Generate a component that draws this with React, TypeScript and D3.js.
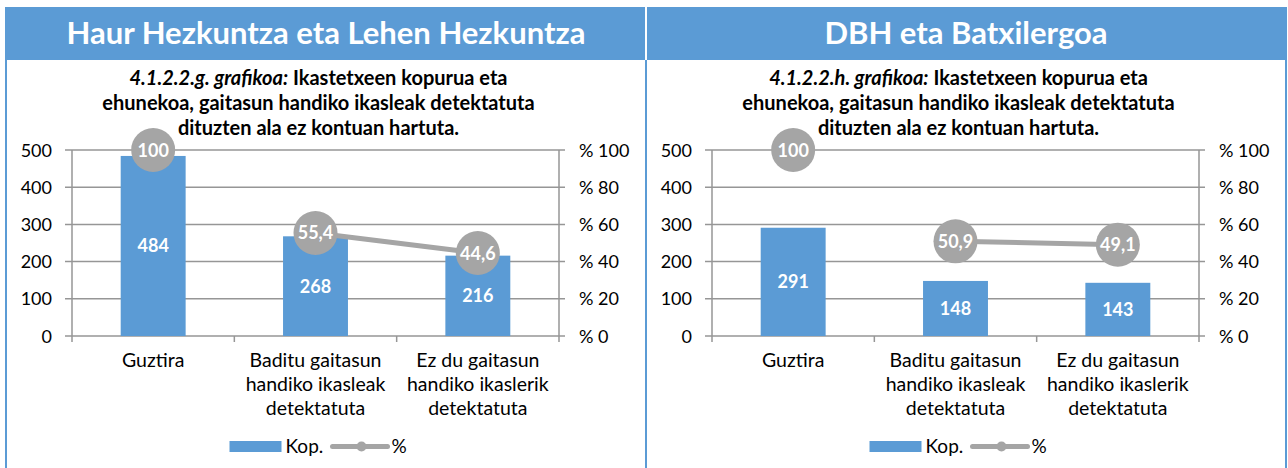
import React from "react";
import * as d3 from "d3";

const categoryLines: string[][] = [
  ["Guztira"],
  ["Baditu gaitasun", "handiko ikasleak", "detektatuta"],
  ["Ez du gaitasun", "handiko ikaslerik", "detektatuta"],
];
const leftHeader = "Haur Hezkuntza eta Lehen Hezkuntza";
const rightHeader = "DBH eta Batxilergoa";
const leftTitleCode = "4.1.2.2.g. grafikoa:";
const rightTitleCode = "4.1.2.2.h. grafikoa:";
const titleRest = ["Ikastetxeen kopurua eta", "ehunekoa, gaitasun handiko ikasleak detektatuta", "dituzten ala ez kontuan hartuta."];
const leftCounts = [484, 268, 216];
const leftPct = [100, 55.4, 44.6];
const rightCounts = [291, 148, 143];
const rightPct = [100, 50.9, 49.1];
const lineConnected = [false, true, true];
const countTicks = [0, 100, 200, 300, 400, 500];
const pctTicks = [0, 20, 40, 60, 80, 100];
const legendLabels = ["Kop.", "%"];

const BLUE = "#5B9BD5";
const GRAY = "#A5A5A5";
const AXIS = "#969696";
const FONT = "Lato, 'Open Sans', sans-serif";

function fmt(v: number) {
  return String(v).replace(".", ",");
}

function Panel({ x0, width, header, code, counts, pct }: any) {
  const plotL = x0 + 67;
  const plotR = plotL + 487;
  const x = d3.scaleBand<number>().domain([0, 1, 2]).range([plotL, plotR]).paddingInner(0).paddingOuter(0);
  const yL = d3.scaleLinear().domain([0, 500]).range([336, 150]);
  const yR = d3.scaleLinear().domain([0, 100]).range([336, 150]);
  const bw = x.bandwidth() * 0.4;
  const cx = (i: number) => (x(i) as number) + x.bandwidth() / 2;
  const line = d3
    .line<number>()
    .defined((_, i) => lineConnected[i])
    .x((_, i) => cx(i))
    .y((d) => yR(d));
  const titleCx = (plotL + plotR) / 2 + 3;
  const panelCx = x0 + width / 2;
  const legX = titleCx - 89;
  return (
    <g>
      <rect x={x0} y={7} width={width} height={53} fill={BLUE} />
      <text x={panelCx} y={44} textAnchor="middle" fill="#fff" fontWeight="bold" fontSize={31} fontFamily={FONT}>
        {header}
      </text>
      <rect x={x0} y={60} width={2} height={408} fill={BLUE} />
      <rect x={x0 + width - 2} y={60} width={2} height={408} fill={BLUE} />
      <g fontFamily={FONT} fontSize={20} fontWeight="bold" fill="#000" textAnchor="middle">
        <text x={titleCx} y={85}>
          <tspan fontStyle="italic">{code}</tspan> {titleRest[0]}
        </text>
        <text x={titleCx} y={110}>{titleRest[1]}</text>
        <text x={titleCx} y={135}>{titleRest[2]}</text>
      </g>
      {countTicks.map((t) => (
        <g key={t}>
          <line x1={plotL - 7} x2={plotR + 6} y1={yL(t)} y2={yL(t)} stroke={AXIS} strokeWidth={1.5} />
          <text x={plotL - 20} y={yL(t) + 6.5} textAnchor="end" fontFamily={FONT} fontSize={18} fill="#000">
            {t}
          </text>
        </g>
      ))}
      {pctTicks.map((t) => (
        <text key={t} x={plotR + 20} y={yR(t) + 6.5} fontFamily={FONT} fontSize={18} fill="#000">
          {"% " + t}
        </text>
      ))}
      <line x1={plotL} x2={plotL} y1={150} y2={342} stroke={AXIS} strokeWidth={1.5} />
      <line x1={plotR} x2={plotR} y1={150} y2={342} stroke={AXIS} strokeWidth={1.5} />
      {[1, 2].map((i) => (
        <line key={i} x1={x(i)} x2={x(i)} y1={336} y2={342} stroke={AXIS} strokeWidth={1.5} />
      ))}
      {counts.map((c: number, i: number) => (
        <g key={i}>
          <rect x={cx(i) - bw / 2} y={yL(c)} width={bw} height={yL(0) - yL(c)} fill={BLUE} />
          <text x={cx(i)} y={(yL(c) + yL(0)) / 2 + 6.5} textAnchor="middle" fill="#fff" fontWeight="bold" fontSize={18} fontFamily={FONT}>
            {c}
          </text>
        </g>
      ))}
      <path d={line(pct) || ""} fill="none" stroke={GRAY} strokeWidth={5} />
      {pct.map((p: number, i: number) => (
        <g key={i}>
          <circle cx={cx(i)} cy={yR(p)} r={22} fill={GRAY} />
          <text x={cx(i)} y={yR(p) + 6.5} textAnchor="middle" fill="#fff" fontWeight="bold" fontSize={18} fontFamily={FONT}>
            {fmt(p)}
          </text>
        </g>
      ))}
      {categoryLines.map((lines, i) => (
        <text key={i} textAnchor="middle" fontFamily={FONT} fontSize={19.5} fill="#000">
          {lines.map((l, j) => (
            <tspan key={j} x={cx(i)} y={367 + j * 24}>
              {l}
            </tspan>
          ))}
        </text>
      ))}
      <rect x={legX} y={441} width={52} height={11} fill={BLUE} />
      <text x={legX + 56} y={453} fontFamily={FONT} fontSize={19} fill="#000">
        {legendLabels[0]}
      </text>
      <line x1={legX + 103} x2={legX + 158} y1={446.5} y2={446.5} stroke={GRAY} strokeWidth={5} strokeLinecap="round" />
      <circle cx={legX + 132} cy={446.5} r={5} fill={GRAY} />
      <text x={legX + 162} y={453} fontFamily={FONT} fontSize={19} fill="#000">
        {legendLabels[1]}
      </text>
    </g>
  );
}

export default function App() {
  return (
    <svg width={1288} height={468} style={{ position: "absolute", left: 0, top: 0, background: "#fff" }}>
      <rect width={1288} height={468} fill="#fff" />
      <Panel x0={5} width={642} header={leftHeader} code={leftTitleCode} counts={leftCounts} pct={leftPct} />
      <Panel x0={645} width={642} header={rightHeader} code={rightTitleCode} counts={rightCounts} pct={rightPct} />
      <rect x={645} y={7} width={2} height={53} fill="#fff" />
    </svg>
  );
}
